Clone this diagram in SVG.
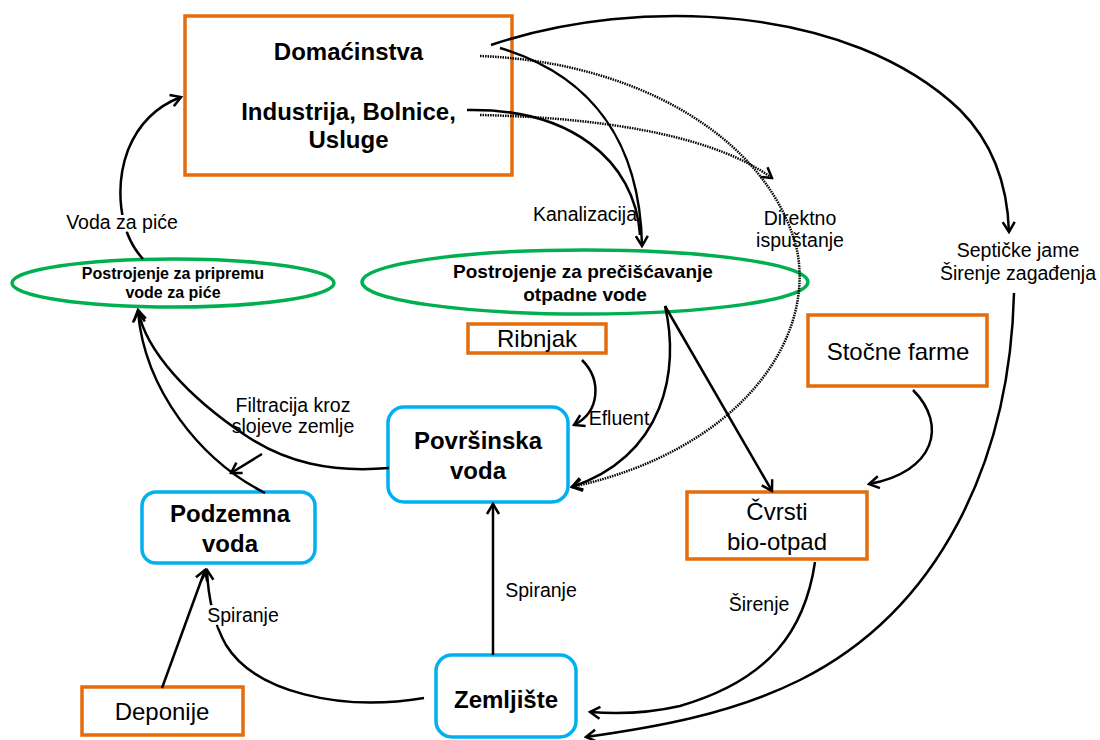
<svg xmlns="http://www.w3.org/2000/svg" width="1100" height="740" viewBox="0 0 1100 740">
<defs>
<style>
.ob{fill:#fff;stroke:#E46C0A;stroke-width:3.5}
.bb{fill:#fff;stroke:#00B0F0;stroke-width:3.5}
.ge{fill:#fff;stroke:#00B050;stroke-width:3.5}
.t{font-family:"Liberation Sans",Arial,sans-serif;fill:#000;text-anchor:middle}
.b24{font-size:24px;font-weight:bold}
.n24{font-size:24px}
.b16{font-size:16px;font-weight:bold}
.b19{font-size:19px;font-weight:bold}
.lb{font-size:19.5px}
.halo{stroke:#fff;stroke-width:6;paint-order:stroke;stroke-linejoin:round}
.c{fill:none;stroke:#000;stroke-width:2.5}
.d{fill:none;stroke:#000;stroke-width:2.5;stroke-dasharray:1.5 1}
</style>
<marker id="ah" viewBox="-12 -8 14 16" markerWidth="14" markerHeight="16" refX="0" refY="0" orient="auto" markerUnits="userSpaceOnUse">
<path d="M-10,-6 L0,0 L-10,6" fill="none" stroke="#000" stroke-width="2.5"/>
</marker>
</defs>
<rect width="1100" height="740" fill="#fff"/>

<g id="n-domacinstva">
<rect class="ob" x="185" y="16" width="327" height="159"/>
<text class="t b24" x="348.5" y="60">Domaćinstva</text>
<text class="t b24" x="348.5" y="120">Industrija, Bolnice,</text>
<text class="t b24" x="348.5" y="148">Usluge</text>
</g>
<g id="n-pitka">
<ellipse class="ge" cx="173" cy="283" rx="161" ry="24"/>
<text class="t b16" x="173" y="279">Postrojenje za pripremu</text>
<text class="t b16" x="173" y="298">vode za piće</text>
</g>
<g id="n-otpadna">
<ellipse class="ge" cx="585" cy="282" rx="223" ry="32"/>
<text class="t b19" x="583" y="278">Postrojenje za prečišćavanje</text>
<text class="t b19" x="585" y="301">otpadne vode</text>
</g>
<g id="n-ribnjak">
<rect class="ob" x="468" y="324" width="138" height="29"/>
<text class="t n24" x="537" y="347">Ribnjak</text>
</g>
<g id="n-stocne">
<rect class="ob" x="808" y="315" width="179" height="71"/>
<text class="t n24" x="898" y="360">Stočne farme</text>
</g>
<g id="n-cvrsti">
<rect class="ob" x="687" y="492" width="180" height="67"/>
<text class="t n24" x="777" y="520">Čvrsti</text>
<text class="t n24" x="777" y="550">bio-otpad</text>
</g>
<g id="n-povrsinska">
<rect class="bb" x="388" y="407" width="180" height="95" rx="16"/>
<text class="t b24" x="478" y="449">Površinska</text>
<text class="t b24" x="478" y="479">voda</text>
</g>
<g id="n-podzemna">
<rect class="bb" x="142" y="492" width="173" height="71" rx="14"/>
<text class="t b24" x="230" y="522">Podzemna</text>
<text class="t b24" x="230" y="552">voda</text>
</g>
<g id="n-zemljiste">
<rect class="bb" x="436" y="655" width="140" height="82" rx="16"/>
<text class="t b24" x="506" y="708">Zemljište</text>
</g>
<g id="n-deponije">
<rect class="ob" x="82" y="687" width="161" height="48"/>
<text class="t n24" x="162" y="720">Deponije</text>
</g>

<g id="connectors">
<path class="c" marker-end="url(#ah)" d="M143,259 C118,232 115,185 128,150 C140,120 160,105 181,97"/>
<path class="c" marker-end="url(#ah)" d="M491,45 C640,-5 850,5 960,110 C1000,150 1008,200 1009,232"/>
<path class="c" marker-end="url(#ah)" d="M500,48 C590,75 640,140 642,246"/>
<path class="c" d="M467,110 C570,108 635,160 640,235"/>
<path class="d" marker-end="url(#ah)" d="M480,115 C620,118 720,140 772,178"/>
<path class="d" marker-end="url(#ah)" d="M480,56 C640,62 770,140 797,250 C815,340 740,450 572,487"/>
<path class="c" marker-end="url(#ah)" d="M665,306 C680,370 665,455 572,487"/>
<path class="c" marker-end="url(#ah)" d="M665,306 L772,491"/>
<path class="c" marker-end="url(#ah)" d="M582,360 C602,380 600,412 574,425"/>
<path class="c" marker-end="url(#ah)" d="M913,390 C948,425 935,472 869,484"/>
<path class="c" marker-end="url(#ah)" d="M1014,293 C1010,460 940,610 800,680 C730,715 650,728 586,737"/>
<path class="c" marker-end="url(#ah)" d="M815,562 C805,630 770,680 680,706 C645,714 615,714 590,712"/>
<path class="c" marker-end="url(#ah)" d="M493,655 L493,504"/>
<path class="c" marker-end="url(#ah)" d="M424,698 C340,712 255,692 226,645 C212,620 208,595 207,570"/>
<path class="c" marker-end="url(#ah)" d="M162,688 L205,570"/>
<path class="c" marker-end="url(#ah)" d="M389,468 C330,473 285,462 245,435 C190,398 146,352 138,310"/>
<path class="c" marker-end="url(#ah)" d="M265,493 C200,460 145,390 138,312"/>
<path class="c" marker-end="url(#ah)" d="M262,454 L231,473"/>

<text class="t lb halo" x="122" y="229">Voda za piće</text>
<text class="t lb" x="585" y="221">Kanalizacija</text>
<text class="t lb" x="800" y="225">Direktno</text>
<text class="t lb" x="800" y="247">ispuštanje</text>
<text class="t lb" x="1018" y="257">Septičke jame</text>
<text class="t lb" x="1018" y="280">Širenje zagađenja</text>
<text class="t lb" x="293" y="412">Filtracija kroz</text>
<text class="t lb" x="293" y="433">slojeve zemlje</text>
<text class="t lb" x="619" y="425">Efluent</text>
<text class="t lb" x="541" y="597">Spiranje</text>
<text class="t lb halo" x="243" y="622">Spiranje</text>
<text class="t lb" x="759" y="611">Širenje</text>
</g>
</svg>
